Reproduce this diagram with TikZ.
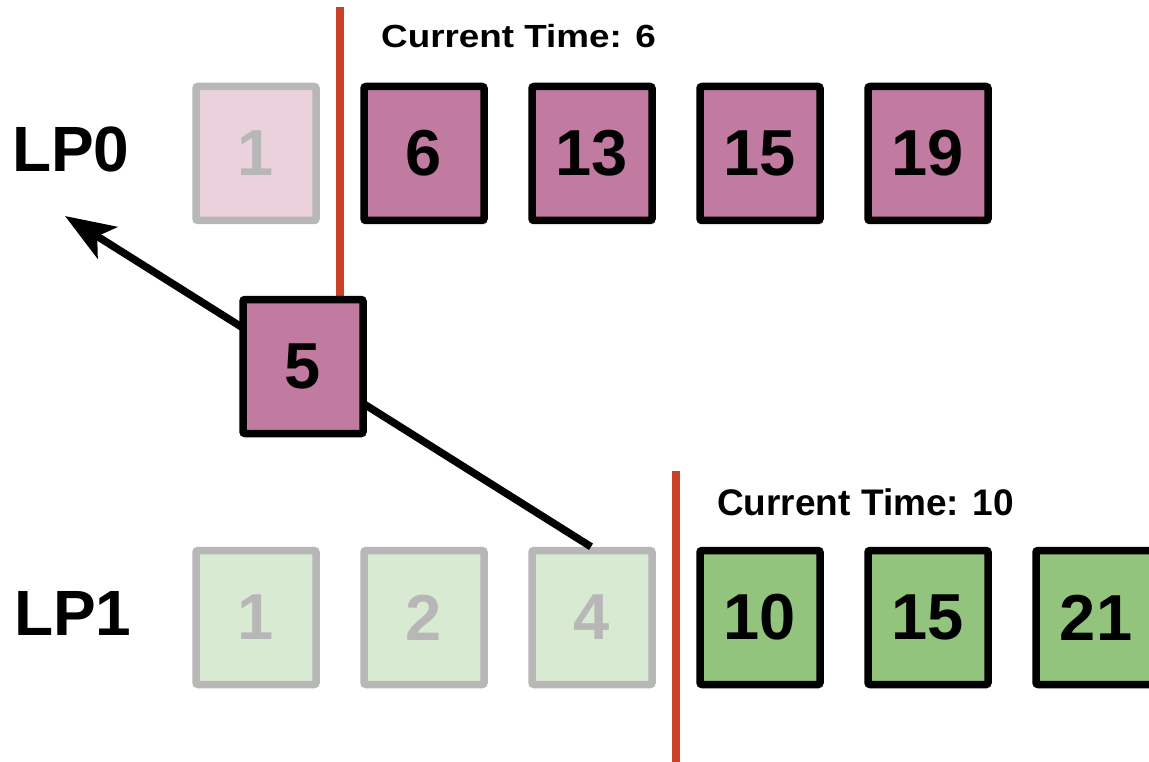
\documentclass[tikz,border=0pt]{standalone}
\usepackage{fontspec}
\setmainfont{Liberation Sans}
\usetikzlibrary{arrows.meta}

\definecolor{evmag}{HTML}{C27BA0}
\definecolor{evmagpale}{HTML}{EAD1DC}
\definecolor{evgreen}{HTML}{93C47D}
\definecolor{evgreenpale}{HTML}{D9EAD3}
\definecolor{doneline}{HTML}{B7B7B7}
\definecolor{nowline}{HTML}{CC4125}

\tikzset{
  event/.style={draw=black, line width=7.5pt, rounded corners=2pt,
    minimum width=120pt, minimum height=134pt, inner sep=0pt,
    font=\fontsize{65}{70}\selectfont\bfseries, text=black},
  pending/.style={event, fill=evmag},
  pendinggreen/.style={event, fill=evgreen},
  processed/.style={event, draw=doneline, text=doneline},
  lpname/.style={anchor=base west, inner sep=0pt,
    font=\fontsize{64}{70}\selectfont\bfseries},
  clocklabel/.style={anchor=base west, inner sep=0pt, font=\bfseries},
  timeline/.style={draw=nowline, line width=8pt},
  message/.style={draw=black, line width=7.5pt,
    -{Stealth[length=50pt, width=37pt, inset=12pt]}}
}

\begin{document}
\begin{tikzpicture}[x=1pt, y=-1pt]
  \clip (0,0) rectangle (1149,762);

  % current-time markers
  \draw[timeline] (340,7) -- (340,320);
  \draw[timeline] (676,471) -- (676,770);

  % process labels and clocks
  \node[lpname] (lp0) at (12,172) {LP0};
  \node[lpname] (lp1) at (14,635) {LP1};
  \node[clocklabel, font=\fontsize{32}{36}\selectfont\bfseries] (clk0) at (381,48)
    {\scalebox{1.15}[1]{Current Time: 6}};
  \node[clocklabel, font=\fontsize{37}{40}\selectfont\bfseries] (clk1) at (717,515)
    {Current Time: 10};

  % LP1 event queue
  \node[processed, fill=evgreenpale] (q1a) at (256,617.5) {1};
  \node[processed, fill=evgreenpale] (q1b) at (424,617.5) {2};
  \node[processed, fill=evgreenpale] (q1c) at (592,617.5) {4};
  \node[pendinggreen] (q1d) at (760,617.5) {10};
  \node[pendinggreen] (q1e) at (928,617.5) {15};
  \node[pendinggreen] (q1f) at (1096,617.5) {21};

  % LP0 event queue
  \node[processed, fill=evmagpale] (q0a) at (256,153.5) {1};
  \node[pending] (q0b) at (424,153.5) {6};
  \node[pending] (q0c) at (592,153.5) {13};
  \node[pending] (q0d) at (760,153.5) {15};
  \node[pending] (q0e) at (928,153.5) {19};

  % straggler message sent from LP1 back to LP0
  \coordinate (msgtip) at (65,216);
  \draw[message] ([xshift=-1pt]q1c.north) -- (msgtip);
  \node[pending] (msg) at (303,366.5) {5};
\end{tikzpicture}
\end{document}
